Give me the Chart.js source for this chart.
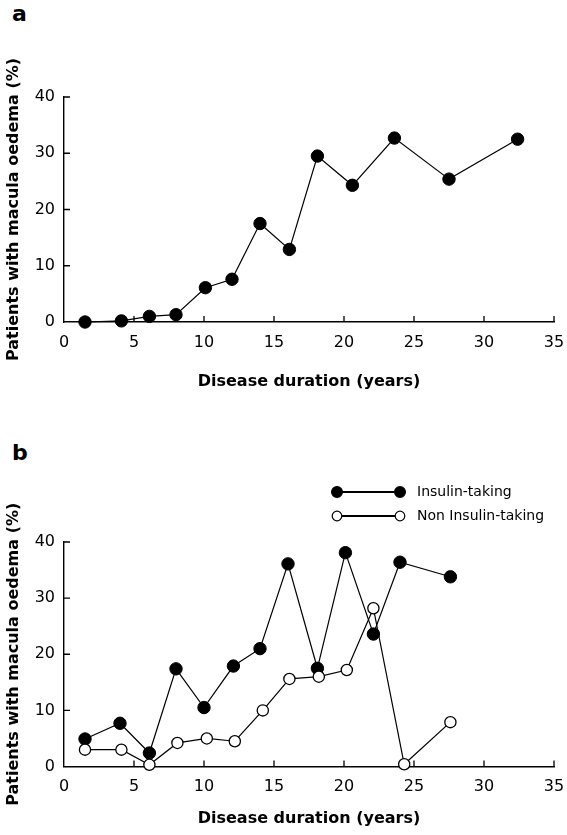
<!DOCTYPE html>
<html lang="en">
<head>
<meta charset="UTF-8">
<title>Macula oedema</title>
<script src="https://cdn.jsdelivr.net/npm/chart.js@4.4.1/dist/chart.umd.min.js"></script>
<style>
    body { margin: 0; background: #fff; width: 567px; height: 835px; position: relative; overflow: hidden; }
    canvas { position: absolute; left: 0; }
    .panel-letter { position: absolute; font: bold 22px "DejaVu Sans", sans-serif; color: #000; }
</style>
</head>
<body>
<div class="panel-letter" style="left: 12px; top: 1px;">a</div>
<div class="panel-letter" style="left: 12px; top: 440px;">b</div>
<canvas id="chart-a" width="567" height="420" style="top: 0px;"></canvas>
<canvas id="chart-b" width="567" height="415" style="top: 420px;"></canvas>

<script>
    // values
    const xTickValues = [0, 5, 10, 15, 20, 25, 30, 35];
    const yTickValues = [0, 10, 20, 30, 40];

    // panel a - all patients
    const durationAll = [1.5, 4.1, 6.1, 8.0, 10.1, 12.0, 14.0, 16.1, 18.1, 20.6, 23.6, 27.5, 32.4];
    const oedemaAll = [0, 0.2, 1.0, 1.3, 6.1, 7.6, 17.5, 12.9, 29.5, 24.3, 32.7, 25.4, 32.5];

    // panel b - by treatment
    const durationInsulin = [1.5, 4.0, 6.1, 8.0, 10.0, 12.1, 14.0, 16.0, 18.1, 20.1, 22.1, 24.0, 27.6];
    const oedemaInsulin = [4.9, 7.7, 2.4, 17.4, 10.5, 17.9, 21.0, 36.1, 17.5, 38.1, 23.6, 36.4, 33.8];
    const durationNonInsulin = [1.5, 4.1, 6.1, 8.1, 10.2, 12.2, 14.2, 16.1, 18.2, 20.2, 22.1, 24.3, 27.6];
    const oedemaNonInsulin = [3.0, 3.0, 0.3, 4.2, 5.0, 4.5, 10.0, 15.6, 16.0, 17.2, 28.2, 0.4, 7.9];

    const seriesNames = ["Insulin-taking", "Non Insulin-taking"];
    const xTitle = "Disease duration (years)";
    const yTitle = "Patients with macula oedema (%)";

    const FONT = '"DejaVu Sans", sans-serif';

    function toPoints(xs, ys) {
        return xs.map((x, i) => ({x: x, y: ys[i]}));
    }

    function filledSeries(label, xs, ys) {
        return {
            label: label,
            data: toPoints(xs, ys),
            borderColor: '#000',
            borderWidth: 1.2,
            pointRadius: 6.2,
            pointBackgroundColor: '#000',
            pointBorderColor: '#000',
            pointBorderWidth: 1,
            tension: 0,
            clip: false,
            order: 1
        };
    }

    function openSeries(label, xs, ys) {
        return {
            label: label,
            data: toPoints(xs, ys),
            borderColor: '#000',
            borderWidth: 1.2,
            pointRadius: 5.6,
            pointBackgroundColor: '#fff',
            pointBorderColor: '#000',
            pointBorderWidth: 1.3,
            tension: 0,
            clip: false,
            order: 0
        };
    }

    // ticks point into the plot, like the printed figure
    const innerTicks = {
        id: 'innerTicks',
        beforeDatasetsDraw(chart) {
            const {ctx, chartArea} = chart;
            const x = chart.scales.x;
            const y = chart.scales.y;
            ctx.save();
            ctx.strokeStyle = '#000';
            ctx.lineWidth = 1.3;
            ctx.beginPath();
            x.ticks.forEach((t, i) => {
                if (t.value === 0) return;
                const px = x.getPixelForTick(i);
                ctx.moveTo(px, chartArea.bottom);
                ctx.lineTo(px, chartArea.bottom - 6);
            });
            y.ticks.forEach((t, i) => {
                if (t.value === 0) return;
                const py = y.getPixelForTick(i);
                ctx.moveTo(chartArea.left, py);
                ctx.lineTo(chartArea.left + 6, py);
            });
            ctx.stroke();
            ctx.restore();
        }
    };

    // legend drawn as line with a marker at both ends
    const lineLegend = {
        id: 'lineLegend',
        afterDraw(chart, args, opts) {
            if (!opts.show) return;
            const ctx = chart.ctx;
            const rows = [
                chart.data.datasets[0],
                chart.data.datasets[1]
            ];
            ctx.save();
            rows.forEach((ds, i) => {
                const y = opts.top + i * opts.rowGap;
                ctx.strokeStyle = '#000';
                ctx.lineWidth = 1.8;
                ctx.beginPath();
                ctx.moveTo(opts.left, y);
                ctx.lineTo(opts.left + opts.lineLength, y);
                ctx.stroke();
                [opts.left, opts.left + opts.lineLength].forEach(cx => {
                    ctx.beginPath();
                    ctx.arc(cx, y, ds.pointRadius - 0.8, 0, Math.PI * 2);
                    ctx.fillStyle = ds.pointBackgroundColor;
                    ctx.fill();
                    ctx.lineWidth = 1.2;
                    ctx.stroke();
                });
                ctx.fillStyle = '#000';
                ctx.font = '14px ' + FONT;
                ctx.textBaseline = 'middle';
                ctx.fillText(ds.label, opts.left + opts.lineLength + 17, y);
            });
            ctx.restore();
        }
    };

    function makeOptions(topPad, xAxisHeight, titlePadBottom, legend) {
        return {
            responsive: false,
            animation: false,
            layout: {padding: {top: topPad, right: 13, left: 0, bottom: 0}},
            plugins: {
                legend: {display: false},
                tooltip: {enabled: false},
                lineLegend: legend
            },
            scales: {
                x: {
                    type: 'linear',
                    min: xTickValues[0],
                    max: xTickValues[xTickValues.length - 1],
                    ticks: {
                        stepSize: xTickValues[1] - xTickValues[0],
                        color: '#000',
                        font: {family: FONT, size: 16},
                        padding: 11,
                        maxRotation: 0
                    },
                    grid: {display: true, drawOnChartArea: false, drawTicks: false},
                    border: {display: true, color: '#000', width: 1.4},
                    title: {
                        display: true,
                        text: xTitle,
                        color: '#000',
                        font: {family: FONT, size: 16, weight: 'bold'},
                        padding: {top: 0, bottom: titlePadBottom}
                    },
                    afterFit: s => {
                        s.height = xAxisHeight;
                        s.paddingRight = 10;
                    }
                },
                y: {
                    type: 'linear',
                    min: yTickValues[0],
                    max: yTickValues[yTickValues.length - 1],
                    ticks: {
                        stepSize: yTickValues[1] - yTickValues[0],
                        color: '#000',
                        font: {family: FONT, size: 16},
                        padding: 9
                    },
                    grid: {display: true, drawOnChartArea: false, drawTicks: false},
                    border: {display: true, color: '#000', width: 1.4},
                    title: {
                        display: true,
                        text: yTitle,
                        color: '#000',
                        font: {family: FONT, size: 16, weight: 'bold'},
                        padding: {top: 4, bottom: 0}
                    },
                    afterFit: s => { s.width = 64; }
                }
            }
        };
    }

    new Chart(document.getElementById('chart-a'), {
        type: 'line',
        data: {
            datasets: [filledSeries('All patients', durationAll, oedemaAll)]
        },
        options: makeOptions(97, 98, 29, {show: false}),
        plugins: [innerTicks, lineLegend]
    });

    new Chart(document.getElementById('chart-b'), {
        type: 'line',
        data: {
            datasets: [
                filledSeries(seriesNames[0], durationInsulin, oedemaInsulin),
                openSeries(seriesNames[1], durationNonInsulin, oedemaNonInsulin)
            ]
        },
        options: makeOptions(122, 68.5, 7, {show: true, left: 337, top: 72, rowGap: 24, lineLength: 63}),
        plugins: [innerTicks, lineLegend]
    });
</script>
</body>
</html>
